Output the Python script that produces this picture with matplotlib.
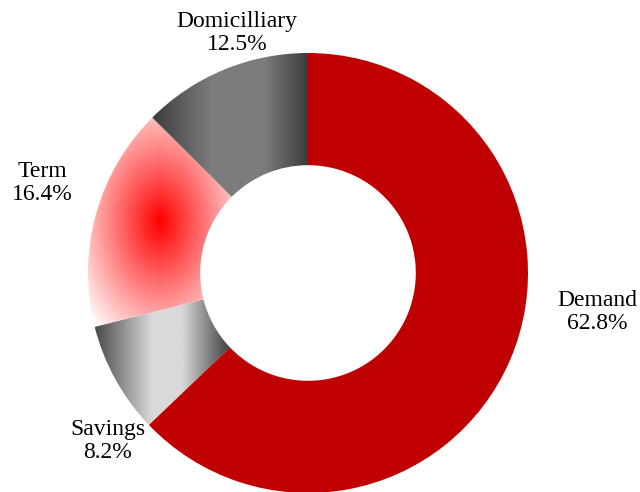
import numpy as np
import matplotlib
matplotlib.use('Agg')
import matplotlib.pyplot as plt
from matplotlib.colors import LinearSegmentedColormap

# data
categories = ["Demand", "Savings", "Term", "Domicilliary"]
shares = [62.8, 8.2, 16.4, 12.5]

plt.rcParams['font.family'] = ['Liberation Serif', 'DejaVu Serif']

fig = plt.figure(figsize=(6.4, 4.92), dpi=100)
ax = fig.add_axes([0, 0, 1, 1])

# pixel geometry of the reference: centre (308, 273), radius 220
R_PX = 220.0
ax.set_xlim(-308 / R_PX, (640 - 308) / R_PX)
ax.set_ylim(-(492 - 273) / R_PX, 273 / R_PX)
ax.set_aspect('equal')
ax.axis('off')

wedges, _ = ax.pie(shares, startangle=90, counterclock=False, radius=1.0,
                   colors=['#C00000', 'none', 'none', 'none'],
                   wedgeprops=dict(width=0.51, linewidth=0))

# gradient fills, clipped to the wedges
gray_lin = LinearSegmentedColormap.from_list(
    'dom', [(0, '#3c3c3c'), (0.38, '#7c7c7c'), (0.72, '#7c7c7c'), (1, '#3c3c3c')])
sav_lin = LinearSegmentedColormap.from_list(
    'sav', [(0, '#4a4a4a'), (0.42, '#d9d9d9'), (0.64, '#d9d9d9'), (1, '#3c3c3c')])
red_rad = LinearSegmentedColormap.from_list(
    'term', [(0, '#ff0000'), (1, '#ffffff')])

fills = {1: ('lin', sav_lin), 2: ('rad', red_rad), 3: ('lin', gray_lin)}
n = 256
for i, (kind, cmap) in fills.items():
    w = wedges[i]
    bb = w.get_path().get_extents()
    if kind == 'lin':
        img = np.tile(np.linspace(0, 1, n), (n, 1))
    else:
        yy, xx = np.mgrid[-1:1:n * 1j, -1:1:n * 1j]
        img = np.clip(np.sqrt(xx ** 2 + yy ** 2) / np.sqrt(2) * 1.05, 0, 1)
    im = ax.imshow(img, cmap=cmap, vmin=0, vmax=1, origin='lower',
                   extent=[bb.x0, bb.x1, bb.y0, bb.y1],
                   interpolation='bilinear', aspect='auto', zorder=0.5)
    im.set_clip_path(w)

ax.set_xlim(-308 / R_PX, (640 - 308) / R_PX)
ax.set_ylim(-(492 - 273) / R_PX, 273 / R_PX)

# label positions (pixels in the reference)
label_px = [(597, 312), (108, 441), (42, 183), (237, 33)]
for cat, val, (px, py) in zip(categories, shares, label_px):
    ax.text((px - 308) / R_PX, (273 - py) / R_PX, f"{cat}\n{val:.1f}%",
            ha='center', va='center', fontsize=17, linespacing=1.1,
            color='#000000')

fig.savefig("out.png", dpi=100)
